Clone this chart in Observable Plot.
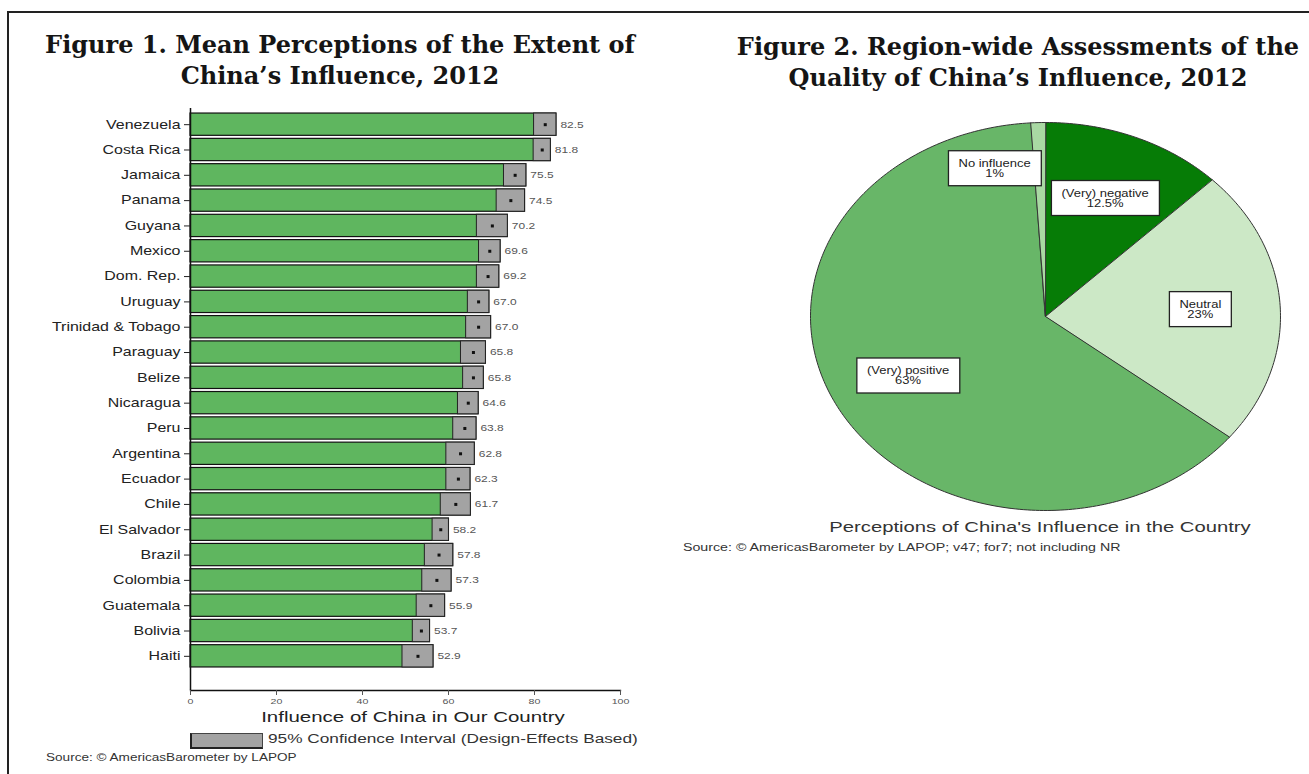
<!DOCTYPE html>
<html><head><meta charset="utf-8">
<script src="https://cdn.jsdelivr.net/npm/d3@7"></script>
<script src="https://cdn.jsdelivr.net/npm/@observablehq/plot@0.6"></script>
<style>
body{margin:0;background:#fff;}
#page{position:relative;width:1309px;height:774px;overflow:hidden;background:#fff;font-family:"Liberation Sans",Arial,sans-serif;color:#222;}
.abs{position:absolute;}
.title{font-family:"DejaVu Serif",serif;font-weight:bold;font-size:24px;color:#151515;text-align:center;line-height:31px;white-space:nowrap;}
.sx{white-space:nowrap;}
</style></head><body>
<div id="page">
  <div class="abs title" style="left:40px;width:600px;top:29px;">Figure 1. Mean Perceptions of the Extent of<br>China’s Influence, 2012</div>
  <div class="abs title" style="left:718px;width:600px;top:31px;">Figure 2. Region-wide Assessments of the<br>Quality of China’s Influence, 2012</div>
  <div id="left" class="abs" style="left:0;top:100px;"></div>
  <div class="abs sx" style="left:190px;top:708px;width:446px;text-align:center;font-size:15.5px;color:#222;transform:scaleX(1.32);transform-origin:223px 0;">Influence of China in Our Country</div>
  <div class="abs" style="left:190px;top:733px;width:70px;height:13px;background:#a3a3a3;border:1px solid #444;border-left:2px solid #222;border-bottom:2px solid #222;"></div>
  <div class="abs sx" style="left:268px;top:732px;font-size:12.5px;color:#333;transform:scaleX(1.38);transform-origin:0 0;">95% Confidence Interval (Design-Effects Based)</div>
  <div class="abs sx" style="left:46px;top:751px;font-size:11.5px;color:#333;transform:scaleX(1.18);transform-origin:0 0;">Source: © AmericasBarometer by LAPOP</div>
  <div id="pie" class="abs" style="left:800px;top:110px;"></div>
  <div class="abs sx" style="left:800px;top:518px;width:480px;text-align:center;font-size:15px;color:#333;transform:scaleX(1.35);transform-origin:240px 0;">Perceptions of China's Influence in the Country</div>
  <div class="abs sx" style="left:683px;top:542px;font-size:10px;color:#333;transform:scaleX(1.42);transform-origin:0 0;">Source: © AmericasBarometer by LAPOP; v47; for7; not including NR</div>
  <div class="abs" style="left:7px;top:11px;width:1400px;height:800px;border-left:2px solid #222;border-top:2px solid #222;z-index:10;pointer-events:none;"></div>
</div>
<script>
// ---- Figure 1 data ----
const countries = ["Venezuela","Costa Rica","Jamaica","Panama","Guyana","Mexico","Dom. Rep.","Uruguay","Trinidad & Tobago","Paraguay","Belize","Nicaragua","Peru","Argentina","Ecuador","Chile","El Salvador","Brazil","Colombia","Guatemala","Bolivia","Haiti"];
const means = [82.5,81.8,75.5,74.5,70.2,69.6,69.2,67.0,67.0,65.8,65.8,64.6,63.8,62.8,62.3,61.7,58.2,57.8,57.3,55.9,53.7,52.9];
const ciHalf = [2.6,2.0,2.6,3.3,3.6,2.5,2.6,2.5,2.9,2.9,2.4,2.4,2.7,3.3,2.8,3.5,1.9,3.3,3.4,3.3,2.0,3.6];
const xTicks = [0,20,40,60,80,100];

// ---- Figure 2 data ----
const sliceNames = ["(Very) negative","Neutral","(Very) positive","No influence"];
const slicePct = [12.5,23,63,1];
const sliceLabels = ["(Very) negative\n12.5%","Neutral\n23%","(Very) positive\n63%","No influence\n1%"];
const sliceColors = ["#067c06","#cce8c6","#68b668","#a9d9a3"];

const rows = countries.map((c,i)=>({country:c, mean:means[i], lower:means[i]-ciHalf[i], upper:means[i]+ciHalf[i]}));
const font = '"Liberation Sans", Arial, sans-serif';

// horizontally stretch text (the reference is a horizontally stretched image)
function stretch(t, s){
  const tr = t.getAttribute("transform") || "";
  const x = t.getAttribute("x");
  if (x !== null && !isNaN(+x)) t.setAttribute("x", (+x)/s);
  t.querySelectorAll("tspan").forEach(sp => { const xx = sp.getAttribute("x"); if (xx !== null && !isNaN(+xx)) sp.setAttribute("x", (+xx)/s); });
  t.setAttribute("transform", `${tr} scale(${s},1)`);
}

const left = Plot.plot({
  width: 660, height: 630,
  marginLeft: 190, marginRight: 40, marginTop: 8, marginBottom: 40,
  style: {fontFamily: font, background: "transparent", overflow: "visible"},
  x: {domain: [0,100], label: null},
  y: {domain: countries, range: [10,570], padding: 0.12, round: false, label: null},
  marks: [
    Plot.barX(rows, {x1: 0, x2: "upper", y: "country", fill: "#5fb65f", stroke: "#111", strokeWidth: 1.2}),
    Plot.barX(rows, {x1: "lower", x2: "upper", y: "country", fill: "#a3a3a3", stroke: "#222", strokeWidth: 1}),
    Plot.dot(rows, {x: "mean", y: "country", symbol: "square", r: 1.7, fill: "#111"}),
    Plot.text(rows, {x: "upper", y: "country", text: d => d.mean.toFixed(1), textAnchor: "start", dx: 4, fontSize: 9, fill: "#555"}),
    Plot.ruleX([0], {stroke: "#111", strokeWidth: 1.5}),
    Plot.frame({anchor: "bottom", stroke: "#111", strokeWidth: 1.3}),
    Plot.axisX({ticks: xTicks, tickSize: 5, tickPadding: 3, fontSize: 8, color: "#555", label: null}),
    Plot.axisY({tickSize: 6, tickPadding: 4, fontSize: 12, color: "#222", label: null})
  ]
});
document.getElementById("left").appendChild(left);
left.querySelectorAll('text').forEach(t => stretch(t, 1.33));

// pie geometry (angles clockwise from top, elliptical via x/y scales)
const total = d3.sum(slicePct);
let acc = 0;
const slices = sliceNames.map((name,i)=>{
  const a0 = acc/total*2*Math.PI; acc += slicePct[i];
  const a1 = acc/total*2*Math.PI;
  return {name, a0, a1, mid:(a0+a1)/2, label:sliceLabels[i]};
});
const pts = slices.flatMap(s=>{
  const n = Math.max(2, Math.ceil((s.a1-s.a0)/(Math.PI/180)));
  const arr = [{slice:s.name, x:0, y:0}];
  for (let k=0;k<=n;k++){ const a = s.a0+(s.a1-s.a0)*k/n; arr.push({slice:s.name, x:Math.sin(a), y:Math.cos(a)}); }
  return arr;
});
const labR = 0.66;
const labs = slices.map(s=>({text:s.label, name:s.name, x:labR*Math.sin(s.mid), y:labR*Math.cos(s.mid)}));

const pie = Plot.plot({
  width: 500, height: 420,
  marginLeft: 10, marginRight: 20, marginTop: 12, marginBottom: 20,
  style: {fontFamily: font, background: "transparent", overflow: "visible"},
  x: {domain: [-1,1], axis: null},
  y: {domain: [-1,1], axis: null},
  color: {domain: sliceNames, range: sliceColors},
  marks: [
    Plot.line(pts, {x: "x", y: "y", z: "slice", fill: "slice", stroke: "#333", strokeWidth: 1, curve: "linear-closed"}),
    Plot.text(labs.filter(d=>d.name!=="No influence"), {x: "x", y: "y", text: "text", fontSize: 10, lineHeight: 1.0, fill: "#222"}),
    Plot.text(labs.filter(d=>d.name==="No influence"), {x: "x", y: "y", text: "text", dx: -46, dy: -20, fontSize: 10, lineHeight: 1.0, fill: "#222"})
  ]
});
document.getElementById("pie").appendChild(pie);

// white boxes behind pie labels, then stretch the label text
const ns = "http://www.w3.org/2000/svg";
const S = 1.3;
pie.querySelectorAll('g[aria-label="text"] text').forEach(t=>{
  const b = t.getBBox();
  const tr = t.getAttribute("transform") || "";
  const x = +(t.getAttribute("x")||0);
  const r = document.createElementNS(ns, "rect");
  const padX = 10, padY = 7;
  r.setAttribute("x", x + (b.x - x)*S - padX); r.setAttribute("y", b.y - padY);
  r.setAttribute("width", b.width*S + 2*padX); r.setAttribute("height", b.height + 2*padY);
  r.setAttribute("fill", "white"); r.setAttribute("stroke", "#222"); r.setAttribute("stroke-width", "1.3");
  if (tr) r.setAttribute("transform", tr);
  t.parentNode.insertBefore(r, t);
  stretch(t, S);
});
</script>
</body></html>
